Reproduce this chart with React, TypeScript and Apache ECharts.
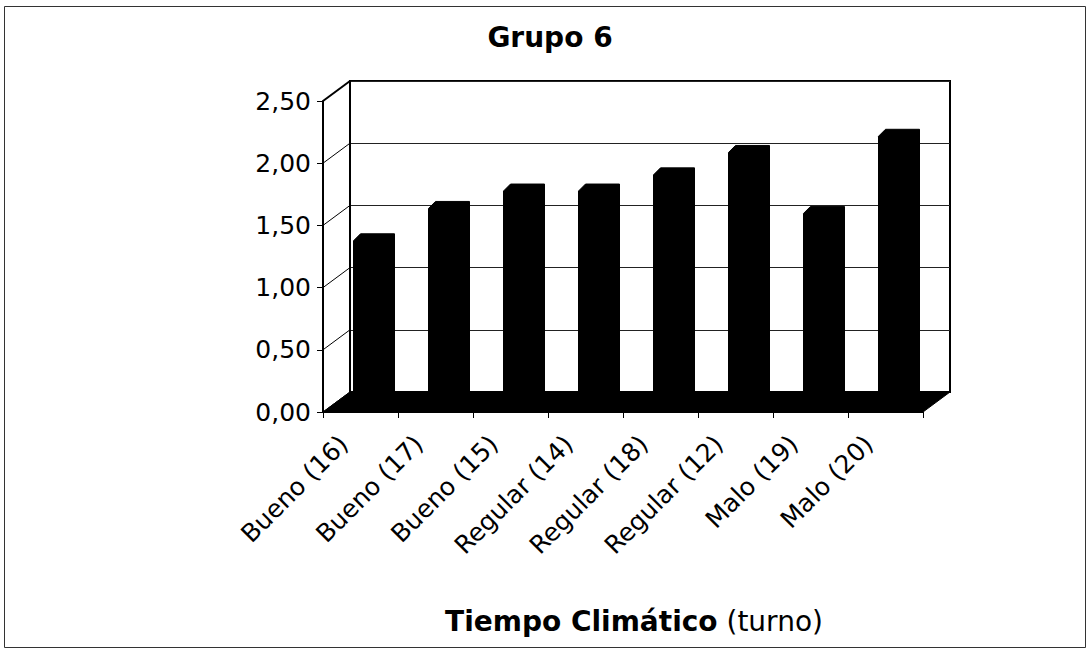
import React, { useEffect, useRef } from "react";
import * as echarts from "echarts";

// Chart content
const chartTitle = "Grupo 6";
const axisTitleBold = "Tiempo Climático";
const axisTitleRegular = "(turno)";
const categories = [
  "Bueno (16)",
  "Bueno (17)",
  "Bueno (15)",
  "Regular (14)",
  "Regular (18)",
  "Regular (12)",
  "Malo (19)",
  "Malo (20)",
];
const values = [1.32, 1.58, 1.72, 1.72, 1.85, 2.03, 1.54, 2.16];
const yTicks = [0, 0.5, 1, 1.5, 2, 2.5];
const yTickLabels = ["0,00", "0,50", "1,00", "1,50", "2,00", "2,50"];

// Pseudo-3D geometry (pixels)
const DEPTH_X = 27;
const DEPTH_Y = -20;
const BAR_LEFT = -7;
const BAR_RIGHT = 27;
const BAR_LIFT = 7;
const BAR_DEPTH = 7;

const FONT = "DejaVu Sans";

export default function App() {
  const ref = useRef<HTMLDivElement>(null);

  useEffect(() => {
    if (!ref.current) return;
    const chart = echarts.init(ref.current, undefined, { renderer: "svg" });

    const front = { left: 323, top: 101, width: 600, height: 311 };
    const back = {
      left: front.left + DEPTH_X,
      top: front.top + DEPTH_Y,
      width: front.width,
      height: front.height,
    };

    const yMin = yTicks[0];
    const yMax = yTicks[yTicks.length - 1];
    const yStep = yTicks[1] - yTicks[0];

    chart.setOption({
      animation: false,
      backgroundColor: "#ffffff",
      textStyle: { fontFamily: FONT },
      grid: [
        { ...front, outerBoundsMode: "none", containLabel: false },
        {
          ...back,
          outerBoundsMode: "none",
          containLabel: false,
          show: true,
          borderColor: "#000",
          borderWidth: 2,
          backgroundColor: "transparent",
          z: 0,
        },
      ],
      xAxis: [
        {
          type: "category",
          gridIndex: 0,
          data: categories,
          boundaryGap: true,
          axisLine: { show: true, lineStyle: { color: "#000", width: 1 } },
          axisTick: {
            show: true,
            interval: 0,
            length: 6,
            lineStyle: { color: "#000", width: 1 },
          },
          axisLabel: {
            interval: 0,
            rotate: 45,
            margin: 11,
            padding: [0, 24, 0, 0],
            color: "#000",
            fontSize: 25,
            fontFamily: FONT,
          },
          splitLine: { show: false },
        },
        {
          type: "category",
          gridIndex: 1,
          data: categories,
          show: false,
        },
      ],
      yAxis: [
        {
          type: "value",
          gridIndex: 0,
          min: yMin,
          max: yMax,
          interval: yStep,
          axisLine: { show: true, lineStyle: { color: "#000", width: 2 } },
          axisTick: {
            show: true,
            length: 6,
            lineStyle: { color: "#000", width: 1 },
          },
          axisLabel: {
            margin: 12,
            padding: [0, 0, 12, 0],
            color: "#000",
            fontSize: 25,
            fontFamily: FONT,
            formatter: (v: number) => {
              const idx = yTicks.findIndex((t) => Math.abs(t - v) < 1e-9);
              return idx >= 0 ? yTickLabels[idx] : "";
            },
          },
          splitLine: { show: false },
        },
        {
          type: "value",
          gridIndex: 1,
          min: yMin,
          max: yMax,
          interval: yStep,
          axisLine: { show: false },
          axisTick: { show: false },
          axisLabel: { show: false },
          splitLine: { show: true, lineStyle: { color: "#222", width: 1 } },
        },
      ],
      graphic: [
        {
          type: "rect",
          shape: { x: 4.5, y: 6.5, width: 1081, height: 641 },
          style: { fill: "none", stroke: "#333", lineWidth: 1 },
          silent: true,
        },
        {
          type: "text",
          x: 550,
          y: 37,
          style: {
            text: chartTitle,
            fontFamily: FONT,
            fontSize: 28,
            fontWeight: "bold",
            fill: "#000",
            align: "center",
            verticalAlign: "middle",
          },
        },
        {
          type: "text",
          x: 634,
          y: 621,
          style: {
            text: `{b|${axisTitleBold}} {n|${axisTitleRegular}}`,
            fontFamily: FONT,
            fontSize: 28,
            fill: "#000",
            align: "center",
            verticalAlign: "middle",
            rich: {
              b: { fontFamily: FONT, fontSize: 28, fontWeight: "bold", fill: "#000" },
              n: { fontFamily: FONT, fontSize: 28, fill: "#000" },
            },
          },
        },
      ],
      series: [
        {
          // side wall lines joining the front value axis to the back wall
          type: "custom",
          xAxisIndex: 0,
          yAxisIndex: 0,
          z: 3,
          silent: true,
          data: yTicks.map((t) => [0, t]),
          renderItem: (params: any, api: any) => {
            const v = api.value(1);
            const x0 = params.coordSys.x;
            const y0 = api.coord([0, v])[1];
            const isTop = Math.abs(v - yMax) < 1e-9;
            return {
              type: "line",
              shape: { x1: x0, y1: y0, x2: x0 + DEPTH_X, y2: y0 + DEPTH_Y },
              style: { stroke: "#000", lineWidth: isTop ? 2 : 1 },
            };
          },
        },
        {
          // back-left vertical edge of the wall
          type: "custom",
          xAxisIndex: 0,
          yAxisIndex: 0,
          z: 3,
          silent: true,
          data: [[0, yMin]],
          renderItem: (params: any, api: any) => {
            const cs = params.coordSys;
            const yb = api.coord([0, yMin])[1];
            const yt = api.coord([0, yMax])[1];
            return {
              type: "line",
              shape: {
                x1: cs.x + DEPTH_X,
                y1: yb + DEPTH_Y,
                x2: cs.x + DEPTH_X,
                y2: yt + DEPTH_Y,
              },
              style: { stroke: "#000", lineWidth: 2 },
            };
          },
        },
        {
          // floor
          type: "custom",
          xAxisIndex: 0,
          yAxisIndex: 0,
          z: 4,
          silent: true,
          data: [[0, yMin]],
          renderItem: (params: any, api: any) => {
            const cs = params.coordSys;
            const yb = api.coord([0, yMin])[1];
            return {
              type: "polygon",
              shape: {
                points: [
                  [cs.x, yb],
                  [cs.x + cs.width, yb],
                  [cs.x + cs.width + DEPTH_X, yb + DEPTH_Y],
                  [cs.x + DEPTH_X, yb + DEPTH_Y],
                ],
              },
              style: { fill: "#000", stroke: "#000", lineWidth: 1 },
            };
          },
        },
        {
          // 3D columns
          type: "custom",
          xAxisIndex: 0,
          yAxisIndex: 0,
          z: 5,
          data: values.map((v, i) => [i, v]),
          renderItem: (params: any, api: any) => {
            const i = api.value(0);
            const v = api.value(1);
            const [cx, yTop] = api.coord([i, v]);
            const yBase = api.coord([i, 0])[1];
            const L = cx + BAR_LEFT;
            const R = cx + BAR_RIGHT;
            const T = yTop - BAR_LIFT;
            const B = yBase - BAR_LIFT;
            return {
              type: "polygon",
              shape: {
                points: [
                  [L, B],
                  [L, T],
                  [L + BAR_DEPTH, T - BAR_DEPTH],
                  [R + BAR_DEPTH, T - BAR_DEPTH],
                  [R + BAR_DEPTH, B - BAR_DEPTH],
                  [R, B],
                ],
              },
              style: { fill: "#000", stroke: "#000", lineWidth: 1, lineJoin: "round" },
            };
          },
        },
      ],
    });

    return () => chart.dispose();
  }, []);

  return (
    <div
      ref={ref}
      style={{ position: "absolute", left: 0, top: 0, width: 1090, height: 653 }}
    />
  );
}
